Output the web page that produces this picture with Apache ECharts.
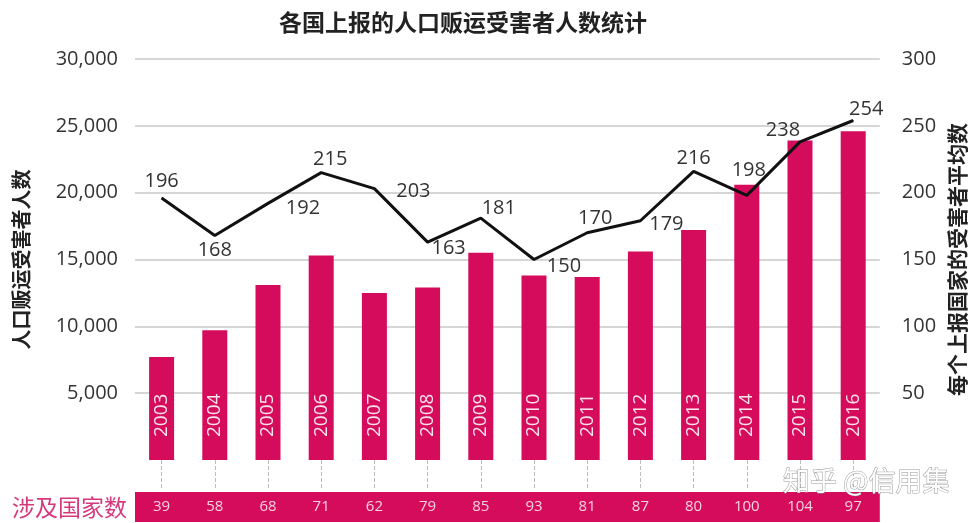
<!DOCTYPE html>
<html>
<head>
<meta charset="utf-8">
<script src="https://cdn.jsdelivr.net/npm/echarts@6/dist/echarts.min.js"></script>
<style>
html,body{margin:0;padding:0;background:#fff;}
#main{width:976px;height:523px;}
</style>
</head>
<body>
<div id="main"></div>
<script>
// ---- data ----
const years = ['2003','2004','2005','2006','2007','2008','2009','2010','2011','2012','2013','2014','2015','2016'];
const victims = [7700, 9700, 13100, 15300, 12500, 12900, 15500, 13800, 13700, 15600, 17200, 20600, 23900, 24600];
const avgVictims = [196, 168, 192, 215, 203, 163, 181, 150, 170, 179, 216, 198, 238, 254];
const countries = [39, 58, 68, 71, 62, 79, 85, 93, 81, 87, 80, 100, 104, 97];
const leftTicks = [0, 5000, 10000, 15000, 20000, 25000, 30000];
const rightTicks = [0, 50, 100, 150, 200, 250, 300];

// ---- styling ----
const MAGENTA = '#d50b5c';
const NUM_FONT = "'Open Sans', 'Noto Sans', sans-serif";
const CJK_FONT = "'Noto Sans CJK SC', sans-serif";
// label offsets (dx, dy) for the line labels, relative to each point
const lineLabelOffsets = [[0,-17],[0,15],[35,5],[9,-13],[39,3],[21,6],[18,-10],[30,7],[8,-14],[26,4],[0,-13],[2,-25],[-17,-12],[13,-11]];

const chart = echarts.init(document.getElementById('main'));
const option = {
  backgroundColor: '#fff',
  animation: false,
  title: {
    text: '各国上报的人口贩运受害者人数统计',
    left: 274, top: 6,
    textStyle: {fontFamily: CJK_FONT, fontSize: 23, fontWeight: 'bold', color: '#222'}
  },
  grid: {left: 135, right: 96, top: 59, bottom: 63},
  xAxis: [{
    type: 'category',
    data: years,
    axisLine: {show: false},
    axisTick: {show: true, alignWithLabel: true, length: 28, lineStyle: {color: '#bdbdbd', type: 'dashed', width: 1}},
    axisLabel: {show: false},
    splitLine: {show: false}
  }, {
    type: 'category',
    data: years,
    position: 'bottom',
    offset: 47,
    name: '涉及国家数',
    nameLocation: 'start',
    nameGap: 8,
    nameTextStyle: {fontFamily: CJK_FONT, fontSize: 23, color: '#d6397c', verticalAlign: 'middle'},
    axisLine: {show: true, onZero: false, lineStyle: {color: MAGENTA, width: 30, cap: 'butt'}},
    axisTick: {show: false},
    axisLabel: {
      show: true, interval: 0, margin: 0, verticalAlign: 'middle',
      color: '#f7d3e1', fontFamily: NUM_FONT, fontSize: 15,
      formatter: (v, i) => String(countries[i])
    }
  }],
  yAxis: [{
    type: 'value',
    min: leftTicks[0], max: leftTicks[leftTicks.length - 1], interval: leftTicks[1] - leftTicks[0],
    name: '人口贩运受害者人数',
    nameLocation: 'middle',
    nameGap: 104,
    nameRotate: 90,
    nameTextStyle: {fontFamily: CJK_FONT, fontSize: 20, color: '#222', fontWeight: 'bold'},
    axisLine: {show: false}, axisTick: {show: false},
    axisLabel: {
      showMinLabel: false, margin: 17, color: '#333', fontFamily: NUM_FONT, fontSize: 20,
      formatter: v => v.toLocaleString('en-US')
    },
    splitLine: {show: true, showMinLine: false, lineStyle: {color: '#c8c8c8', width: 1.5}}
  }, {
    type: 'value',
    min: rightTicks[0], max: rightTicks[rightTicks.length - 1], interval: rightTicks[1] - rightTicks[0],
    name: '每个上报国家的受害者平均数',
    nameLocation: 'middle',
    nameGap: 64,
    nameRotate: 90,
    nameTextStyle: {fontFamily: CJK_FONT, fontSize: 21, color: '#222', fontWeight: 'bold'},
    axisLine: {show: false}, axisTick: {show: false},
    axisLabel: {showMinLabel: false, margin: 22, color: '#333', fontFamily: NUM_FONT, fontSize: 20},
    splitLine: {show: false}
  }],
  series: [{
    type: 'bar',
    data: victims,
    barWidth: 25,
    itemStyle: {color: MAGENTA},
    label: {
      show: true,
      position: 'insideBottom',
      distance: 23,
      rotate: 90,
      align: 'left',
      verticalAlign: 'middle',
      color: '#fbe3ec',
      fontFamily: NUM_FONT,
      fontSize: 19,
      formatter: p => years[p.dataIndex]
    }
  }, {
    type: 'line',
    yAxisIndex: 1,
    data: avgVictims.map((v, i) => ({
      value: v,
      label: {offset: lineLabelOffsets[i]}
    })),
    symbol: 'circle',
    symbolSize: 1,
    itemStyle: {color: '#111'},
    lineStyle: {color: '#111', width: 3},
    label: {
      show: true, position: 'inside',
      color: '#333', fontFamily: NUM_FONT, fontSize: 20
    },
    z: 5
  }],
  graphic: [{
    type: 'text',
    right: 26, top: 467,
    style: {
      text: '知乎 @信用集',
      fontFamily: CJK_FONT, fontSize: 27,
      fill: '#ffffff', stroke: '#9a9a9a', lineWidth: 1
    },
    z: 100
  }]
};
chart.setOption(option);
</script>
</body>
</html>
